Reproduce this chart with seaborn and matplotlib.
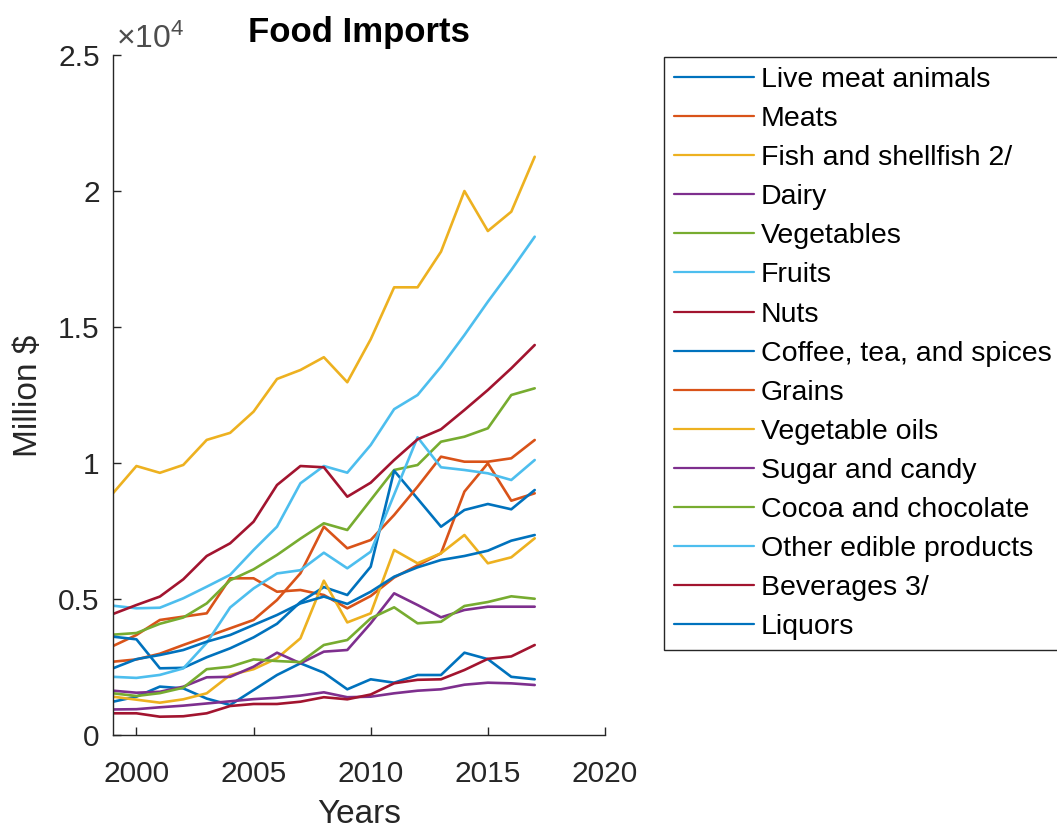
import numpy as np
import pandas as pd
import matplotlib
matplotlib.use("Agg")
import matplotlib.pyplot as plt
import seaborn as sns

years = list(range(1999, 2018))

series_names = [
    "Live meat animals", "Meats", "Fish and shellfish 2/", "Dairy", "Vegetables",
    "Fruits", "Nuts", "Coffee, tea, and spices", "Grains", "Vegetable oils",
    "Sugar and candy", "Cocoa and chocolate", "Other edible products",
    "Beverages 3/", "Liquors",
]

live_meat_animals = [1235, 1420, 1790, 1725, 1350, 1114, 1665, 2217, 2647, 2301, 1691, 2059, 1934, 2217, 2217, 3037, 2800, 2150, 2059]
meats = [3283, 3687, 4240, 4362, 4485, 5772, 5772, 5279, 5342, 5158, 4669, 5121, 5800, 6250, 6690, 8960, 10000, 8625, 8897]
fish_shellfish = [8900, 9900, 9650, 9940, 10860, 11120, 11900, 13100, 13430, 13900, 12980, 14560, 16470, 16470, 17780, 20010, 18540, 19250, 21270]
dairy = [950, 960, 1030, 1090, 1170, 1250, 1330, 1380, 1460, 1580, 1400, 1420, 1544, 1640, 1691, 1860, 1934, 1910, 1849]
vegetables = [3700, 3760, 4100, 4330, 4850, 5700, 6100, 6630, 7230, 7794, 7548, 8651, 9754, 9937, 10794, 10978, 11287, 12511, 12757]
fruits = [4765, 4669, 4690, 5037, 5463, 5900, 6812, 7669, 9265, 9900, 9655, 10673, 11990, 12511, 13551, 14716, 15941, 17107, 18331]
nuts = [809, 809, 684, 700, 809, 1077, 1151, 1151, 1235, 1400, 1323, 1500, 1912, 2040, 2059, 2401, 2810, 2900, 3320]
coffee_tea_spices = [3626, 3529, 2463, 2480, 2870, 3198, 3600, 4100, 4900, 5450, 5158, 6199, 9728, 8700, 7669, 8283, 8504, 8309, 9018]
grains = [2706, 2790, 3000, 3320, 3626, 3933, 4240, 4974, 5956, 7669, 6875, 7180, 8100, 9140, 10243, 10059, 10059, 10184, 10857]
vegetable_oils = [1419, 1310, 1199, 1323, 1544, 2217, 2430, 2831, 3566, 5684, 4150, 4485, 6812, 6324, 6691, 7364, 6324, 6544, 7243]
sugar_candy = [1640, 1566, 1600, 1787, 2132, 2150, 2522, 3037, 2647, 3075, 3136, 4117, 5220, 4790, 4338, 4607, 4728, 4728, 4728]
cocoa_chocolate = [1544, 1445, 1550, 1750, 2430, 2520, 2790, 2730, 2690, 3320, 3504, 4301, 4705, 4117, 4176, 4754, 4900, 5110, 5020]
other_edible = [2150, 2110, 2220, 2460, 3400, 4700, 5400, 5950, 6070, 6713, 6140, 6750, 8850, 10956, 9853, 9754, 9632, 9386, 10121]
beverages = [4460, 4790, 5100, 5735, 6592, 7059, 7853, 9202, 9900, 9853, 8772, 9287, 10121, 10882, 11250, 11960, 12695, 13492, 14349]
liquors = [2463, 2800, 2952, 3136, 3441, 3687, 4055, 4423, 4850, 5100, 4830, 5279, 5831, 6176, 6445, 6592, 6787, 7155, 7364]

series_values = [
    live_meat_animals, meats, fish_shellfish, dairy, vegetables, fruits, nuts,
    coffee_tea_spices, grains, vegetable_oils, sugar_candy, cocoa_chocolate,
    other_edible, beverages, liquors,
]

x_ticks = [2000, 2005, 2010, 2015, 2020]
y_ticks = [0, 5000, 10000, 15000, 20000, 25000]
y_tick_labels = ["0", "0.5", "1", "1.5", "2", "2.5"]

matlab_colors = [
    (0.000, 0.447, 0.741), (0.850, 0.325, 0.098), (0.929, 0.694, 0.125),
    (0.494, 0.184, 0.556), (0.466, 0.674, 0.188), (0.301, 0.745, 0.933),
    (0.635, 0.078, 0.184),
]
palette = [matlab_colors[i % 7] for i in range(len(series_names))]

rows = []
for name, vals in zip(series_names, series_values):
    for yr, v in zip(years, vals):
        rows.append({"Year": yr, "Value": v, "Series": name})
df = pd.DataFrame(rows)

sns.set_style("white")
plt.rcParams["font.family"] = ["Liberation Sans", "DejaVu Sans"]
plt.rcParams["mathtext.default"] = "regular"

W, H = 1057, 830
fig = plt.figure(figsize=(W / 100, H / 100), dpi=100)
ax_left, ax_right, ax_top, ax_bottom = 113, 605, 55.3, 735.3
ax = fig.add_axes([ax_left / W, 1 - ax_bottom / H, (ax_right - ax_left) / W, (ax_bottom - ax_top) / H])

sns.lineplot(data=df, x="Year", y="Value", hue="Series", hue_order=series_names,
             palette=palette, linewidth=1.9, errorbar=None, ax=ax)

dark = "#262626"
ax.set_xlim(1999, 2020)
ax.set_ylim(0, 25000)
ax.set_xticks(x_ticks)
ax.set_xticklabels([str(t) for t in x_ticks])
ax.set_yticks(y_ticks)
ax.set_yticklabels(y_tick_labels)
ax.tick_params(axis="both", which="major", direction="in", length=6, width=1.0,
               colors=dark, labelsize=21.5, labelcolor=dark,
               bottom=True, left=True, top=False, right=False)
ax.tick_params(axis="x", pad=18)
ax.tick_params(axis="y", pad=9.5)
for s in ["top", "right"]:
    ax.spines[s].set_visible(False)
for s in ["left", "bottom"]:
    ax.spines[s].set_color(dark)
    ax.spines[s].set_linewidth(1.0)
ax.set_xlabel("")
ax.set_ylabel("")
ax.grid(False)

ax.set_title("Food Imports", fontsize=25, fontweight="bold", color="black", pad=9.5)
fig.text(29 / W, 1 - 396 / H, "Million $", rotation=90, ha="center", va="center",
         fontsize=24, color=dark)
fig.text(359 / W, 1 - 814 / H, "Years", ha="center", va="center", fontsize=24, color=dark)
fig.text(116 / W, 1 - 48 / H, r"$\times10^{4}$", ha="left", va="baseline",
         fontsize=23, color="#4d4d4d")

old = ax.get_legend()
handles = old.legend_handles
labels = [t.get_text() for t in old.get_texts()]
old.remove()
leg = ax.legend(handles, labels, loc="upper left",
                bbox_to_anchor=(664 / W, 1 - 57 / H), bbox_transform=fig.transFigure,
                borderaxespad=0, frameon=True, fancybox=False, framealpha=1,
                edgecolor=dark, fontsize=20.5, handlelength=2.8, handletextpad=0.25,
                labelspacing=0.46, borderpad=0.35)
leg.get_frame().set_linewidth(1.0)
for h in leg.legend_handles:
    h.set_linewidth(1.6)
for t in leg.get_texts():
    t.set_color("black")

fig.savefig("out.png", dpi=100, facecolor="white")
